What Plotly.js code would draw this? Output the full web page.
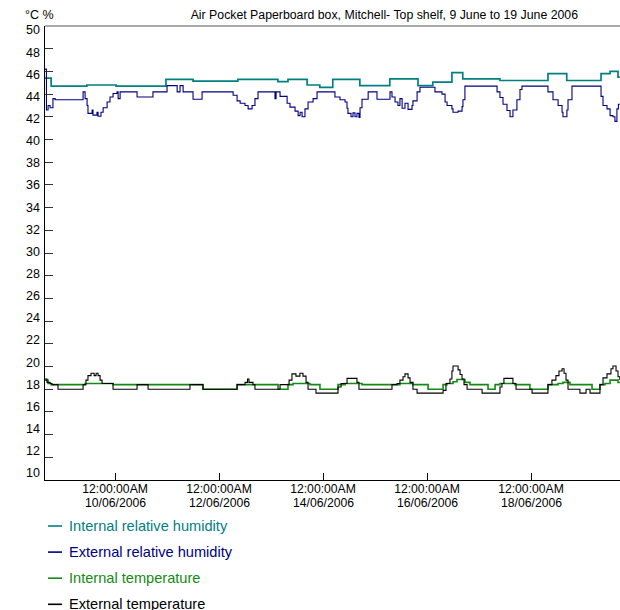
<!DOCTYPE html>
<html>
<head>
<meta charset="utf-8">
<script src="https://cdn.plot.ly/plotly-3.0.1.min.js"></script>
<style>html,body{margin:0;padding:0;background:#fff;}</style>
</head>
<body>
<div id="chart" style="width:620px;height:610px;"></div>
<script>
// Logger readings, Air Pocket paperboard box (top shelf), June 2006
const chartTitle = 'Air Pocket Paperboard box, Mitchell- Top shelf, 9 June to 19 June 2006';
const unitLabel = '°C %';
const seriesNames = ['Internal relative humidity', 'External relative humidity', 'Internal temperature', 'External temperature'];
const seriesColors = ['#008080', '#000080', '#138a13', '#000000'];

const yTickValues = [10, 12, 14, 16, 18, 20, 22, 24, 26, 28, 30, 32, 34, 36, 38, 40, 42, 44, 46, 48, 50];
const tickDates = ['2006-06-10', '2006-06-12', '2006-06-14', '2006-06-16', '2006-06-18'];
const tickTime = '12:00:00AM';
const tickDateLabels = ['10/06/2006', '12/06/2006', '14/06/2006', '16/06/2006', '18/06/2006'];
const timeSpan = ['2006-06-08 15:40', '2006-06-19 17:05'];

// Internal relative humidity (%)
const rhInTime = ['2006-06-08 15:40','2006-06-08 18:30','2006-06-09 11:00','2006-06-10 00:30','2006-06-10 23:30',
  '2006-06-11 12:00','2006-06-12 08:40','2006-06-13 03:10','2006-06-13 07:50','2006-06-13 16:40','2006-06-13 22:30',
  '2006-06-14 04:30','2006-06-14 17:00','2006-06-15 06:50','2006-06-15 19:50','2006-06-16 02:40','2006-06-16 11:30',
  '2006-06-16 16:30','2006-06-17 09:40','2006-06-18 07:50','2006-06-18 16:30','2006-06-19 08:20','2006-06-19 12:30',
  '2006-06-19 16:10','2006-06-19 17:00'];
const rhIn = [45.4,44.7,44.8,44.7,45.3,
  45.15,45.3,45.1,45.3,44.8,44.6,
  45.3,44.75,45.35,44.75,45.05,45.9,
  45.35,45.2,45.8,45.2,45.8,46.0,
  45.5,45.5];

// External relative humidity (%)
const rhOutTime = ['2006-06-08 15:40','2006-06-08 16:20','2006-06-08 17:05','2006-06-08 18:00','2006-06-08 19:20','2006-06-08 20:20',
  '2006-06-09 09:15','2006-06-09 10:10','2006-06-09 11:05','2006-06-09 11:30','2006-06-09 13:25','2006-06-09 13:50',
  '2006-06-09 15:40','2006-06-09 16:10','2006-06-09 17:30','2006-06-09 18:30','2006-06-09 20:20','2006-06-09 21:40',
  '2006-06-09 23:05','2006-06-10 00:55','2006-06-10 01:25','2006-06-10 02:20','2006-06-10 10:10','2006-06-10 17:30',
  '2006-06-11 00:00','2006-06-11 04:40','2006-06-11 06:00','2006-06-11 07:25','2006-06-11 12:00','2006-06-11 16:10',
  '2006-06-12 06:30','2006-06-12 08:20','2006-06-12 09:45','2006-06-12 12:00','2006-06-12 13:25','2006-06-12 15:15',
  '2006-06-12 16:35','2006-06-12 18:00','2006-06-13 01:50','2006-06-13 02:20','2006-06-13 04:10','2006-06-13 07:25',
  '2006-06-13 08:45','2006-06-13 11:05','2006-06-13 12:30','2006-06-13 13:25','2006-06-13 14:20','2006-06-13 15:40',
  '2006-06-13 17:05','2006-06-13 19:25','2006-06-13 21:15','2006-06-14 05:30','2006-06-14 07:50','2006-06-14 10:10',
  '2006-06-14 11:05','2006-06-14 11:30','2006-06-14 12:55','2006-06-14 13:50','2006-06-14 14:45','2006-06-14 15:40',
  '2006-06-14 16:35','2006-06-14 17:05','2006-06-14 18:00','2006-06-14 20:50','2006-06-15 00:55','2006-06-15 06:55',
  '2006-06-15 07:50','2006-06-15 09:15','2006-06-15 10:35','2006-06-15 11:30','2006-06-15 12:30','2006-06-15 13:50',
  '2006-06-15 15:15','2006-06-15 17:05','2006-06-15 17:30','2006-06-15 19:25','2006-06-15 20:45','2006-06-16 03:40',
  '2006-06-16 06:55','2006-06-16 08:20','2006-06-16 09:15','2006-06-16 11:30','2006-06-16 12:00','2006-06-16 14:20',
  '2006-06-16 16:10','2006-06-16 16:35','2006-06-16 17:30','2006-06-17 08:20','2006-06-17 09:40','2006-06-17 11:05',
  '2006-06-17 12:55','2006-06-17 14:20','2006-06-17 15:40','2006-06-17 17:30','2006-06-17 18:55','2006-06-17 19:50',
  '2006-06-18 07:50','2006-06-18 10:10','2006-06-18 12:30','2006-06-18 14:20','2006-06-18 14:45','2006-06-18 16:35',
  '2006-06-18 17:05','2006-06-18 18:55','2006-06-19 08:20','2006-06-19 09:15','2006-06-19 11:05','2006-06-19 12:30',
  '2006-06-19 13:50','2006-06-19 14:45','2006-06-19 15:40','2006-06-19 16:20','2006-06-19 17:00'];
const rhOut = [46.2,42.6,43.0,42.8,43.6,43.5,
  44.2,43.6,43.0,42.3,42.6,42.15,
  42.4,42.05,42.4,42.8,43.3,43.75,
  44.05,44.2,43.6,44.2,43.75,44.2,
  44.75,44.2,44.75,44.2,43.55,44.2,
  43.9,43.4,43.2,43.0,42.7,43.0,
  43.6,44.2,43.6,44.2,43.8,43.2,
  42.85,42.5,42.1,42.4,42.0,42.7,
  43.3,43.6,44.2,43.75,43.5,43.3,
  42.75,42.3,42.0,42.35,42.0,42.3,
  41.95,42.8,43.55,44.2,43.55,44.2,
  43.75,43.3,43.0,43.6,42.75,43.2,
  42.65,43.0,43.4,44.2,44.6,44.2,
  44.0,43.3,43.0,42.7,42.4,42.5,
  42.9,43.5,44.7,44.2,43.7,43.1,
  42.55,42.0,42.6,43.5,44.4,44.7,
  44.2,43.5,43.0,42.4,42.0,42.6,
  43.5,44.7,43.8,43.0,42.7,42.1,
  42.0,41.6,42.7,43.1,43.1];

// Internal temperature (°C)
const tInTime = ['2006-06-08 15:40','2006-06-08 17:05','2006-06-08 18:30','2006-06-09 10:10','2006-06-09 23:05',
  '2006-06-11 16:35','2006-06-12 08:20','2006-06-13 03:15','2006-06-13 07:50','2006-06-13 10:10','2006-06-13 18:00',
  '2006-06-13 22:35','2006-06-14 06:55','2006-06-14 10:10','2006-06-14 18:00','2006-06-15 11:30','2006-06-15 17:30',
  '2006-06-16 00:30','2006-06-16 07:25','2006-06-16 09:15','2006-06-16 12:00','2006-06-16 13:50','2006-06-16 17:30',
  '2006-06-16 19:50','2006-06-17 04:10','2006-06-17 07:25','2006-06-17 09:40','2006-06-17 16:35','2006-06-17 23:30',
  '2006-06-18 07:50','2006-06-18 12:30','2006-06-18 14:45','2006-06-18 18:00','2006-06-19 04:10','2006-06-19 07:50',
  '2006-06-19 10:10','2006-06-19 12:30','2006-06-19 16:10','2006-06-19 17:00'];
const tIn = [18.8,18.5,18.4,18.5,18.4,
  18.0,18.4,18.0,18.4,18.5,18.4,
  18.0,18.4,18.5,18.4,18.5,18.4,
  18.0,18.4,18.5,18.65,18.85,18.6,
  18.4,18.0,18.4,18.5,18.4,18.0,
  18.4,18.5,18.6,18.4,18.0,18.4,
  18.5,18.8,18.6,18.6];

// External temperature (°C)
const tOutTime = ['2006-06-08 15:40','2006-06-08 16:35','2006-06-08 18:00','2006-06-08 18:55','2006-06-08 21:40',
  '2006-06-09 09:15','2006-06-09 10:35','2006-06-09 11:30','2006-06-09 12:55','2006-06-09 14:20','2006-06-09 15:15',
  '2006-06-09 16:10','2006-06-09 17:05','2006-06-09 18:00','2006-06-09 23:05','2006-06-10 10:10','2006-06-10 15:15',
  '2006-06-11 10:35','2006-06-11 16:35','2006-06-12 08:20','2006-06-12 12:00','2006-06-12 13:10','2006-06-12 13:50',
  '2006-06-12 15:40','2006-06-12 16:35','2006-06-13 04:10','2006-06-13 08:20','2006-06-13 09:40','2006-06-13 11:30',
  '2006-06-13 13:20','2006-06-13 14:45','2006-06-13 16:10','2006-06-13 17:05','2006-06-13 20:45','2006-06-14 06:55',
  '2006-06-14 08:20','2006-06-14 11:05','2006-06-14 15:40','2006-06-14 16:35','2006-06-15 07:50','2006-06-15 10:10',
  '2006-06-15 11:30','2006-06-15 12:55','2006-06-15 13:50','2006-06-15 15:15','2006-06-15 16:10','2006-06-15 17:30',
  '2006-06-15 19:25','2006-06-16 07:25','2006-06-16 08:45','2006-06-16 10:35','2006-06-16 11:30','2006-06-16 12:00',
  '2006-06-16 14:20','2006-06-16 15:15','2006-06-16 16:10','2006-06-16 17:05','2006-06-16 18:30','2006-06-17 01:25',
  '2006-06-17 09:40','2006-06-17 10:35','2006-06-17 11:30','2006-06-17 15:40','2006-06-17 17:05','2006-06-18 00:30',
  '2006-06-18 07:50','2006-06-18 09:40','2006-06-18 11:30','2006-06-18 12:55','2006-06-18 14:20','2006-06-18 15:15',
  '2006-06-18 16:10','2006-06-18 17:05','2006-06-18 22:35','2006-06-19 01:25','2006-06-19 03:15','2006-06-19 07:50',
  '2006-06-19 09:15','2006-06-19 11:05','2006-06-19 12:55','2006-06-19 13:50','2006-06-19 15:15','2006-06-19 16:10',
  '2006-06-19 17:00'];
const tOut = [18.9,18.6,18.5,18.4,18.0,
  18.4,18.8,19.2,19.4,19.2,19.4,
  19.2,18.8,18.5,18.0,18.4,18.0,
  18.4,18.0,18.4,18.6,18.9,18.6,
  18.4,18.0,18.4,18.8,19.35,19.15,
  19.4,19.15,18.6,18.0,17.65,18.2,
  18.5,18.95,18.6,18.0,18.4,18.5,
  18.8,19.1,19.35,19.0,18.6,18.0,
  17.65,17.9,18.5,18.9,19.6,20.05,
  19.7,19.3,18.9,18.4,18.0,17.65,
  18.2,18.5,18.95,18.5,18.0,17.65,
  18.4,18.8,19.2,19.6,19.8,19.4,
  18.8,18.0,17.65,18.0,17.65,18.4,
  19.0,19.35,19.8,20.05,19.6,19.1,
  18.8];

const seriesTimes = [rhInTime, rhOutTime, tInTime, tOutTime];
const seriesValues = [rhIn, rhOut, tIn, tOut];
const seriesWidths = [1.7, 1.1, 1.6, 1.1];

// plot geometry (pixels)
const W = 620, H = 610;
const M = {l: 45, r: 0, t: 26, b: 130};
const plotW = W - M.l - M.r, plotH = H - M.t - M.b;
const px2x = px => (px - M.l) / plotW;
const px2y = py => (H - M.b - py) / plotH;

// the value labels sit on a slightly tighter pitch than the tick marks:
// 10 beside the x axis, 50 just under the top rule
const labelBottom = H - M.b - 7, labelPitch = 11.075;
const labelRange = [10 - (H - M.b - labelBottom) / labelPitch, 10 + (labelBottom - M.t) / labelPitch];

const FONT = 'Liberation Sans, Arial, Helvetica, sans-serif';

const traces = seriesNames.map((name, i) => ({
  type: 'scatter',
  mode: 'lines',
  name: name,
  x: seriesTimes[i],
  y: seriesValues[i],
  line: {color: seriesColors[i], width: seriesWidths[i], shape: 'hv'},
  showlegend: false,
  hoverinfo: 'x+y+name'
}));
// empty trace that carries the label axis
traces.push({type: 'scatter', mode: 'lines', x: [], y: [], yaxis: 'y2', showlegend: false, hoverinfo: 'skip'});

// legend drawn beneath the plot: short line sample + coloured label
const legendShapes = [];
const legendNotes = [];
seriesNames.forEach((name, i) => {
  const rowY = 526 + i * 26.1;
  legendShapes.push({
    type: 'line', xref: 'paper', yref: 'paper',
    x0: px2x(48), x1: px2x(62), y0: px2y(rowY), y1: px2y(rowY),
    line: {color: seriesColors[i], width: 1.6}
  });
  legendNotes.push({
    xref: 'paper', yref: 'paper', x: px2x(67), y: px2y(rowY),
    xanchor: 'left', yanchor: 'middle', showarrow: false,
    text: name, font: {family: FONT, size: 14.6, color: seriesColors[i]}
  });
});

// second line of each time label (the date)
const dateNotes = tickDates.map((d, i) => ({
  xref: 'x', yref: 'paper', x: d, y: px2y(503),
  xanchor: 'center', yanchor: 'middle', showarrow: false,
  text: tickDateLabels[i], font: {family: FONT, size: 12.2, color: '#000'}
}));

const layout = {
  width: W, height: H,
  margin: M,
  paper_bgcolor: '#ffffff',
  plot_bgcolor: '#ffffff',
  font: {family: FONT, size: 12, color: '#000'},
  title: {
    text: chartTitle,
    xref: 'container', yref: 'container',
    x: 578 / W, xanchor: 'right',
    y: 1 - 15 / H, yanchor: 'middle',
    font: {family: FONT, size: 12.3, color: '#000'}
  },
  xaxis: {
    type: 'date',
    range: timeSpan,
    tickmode: 'array',
    tickvals: tickDates,
    ticktext: tickDates.map(() => tickTime),
    ticks: 'inside', ticklen: 7, tickwidth: 1, tickcolor: '#000',
    ticklabelstandoff: -3,
    showline: true, linecolor: '#000', linewidth: 1,
    showgrid: false, zeroline: false,
    tickfont: {family: FONT, size: 12.2, color: '#000'}
  },
  yaxis: {
    range: [10, 50],
    tickmode: 'array', tickvals: yTickValues,
    ticks: 'inside', ticklen: 8, tickwidth: 1, tickcolor: '#333',
    showticklabels: false,
    showline: true, linecolor: '#000', linewidth: 1,
    showgrid: false, zeroline: false
  },
  yaxis2: {
    overlaying: 'y', side: 'left', anchor: 'x',
    range: labelRange,
    tickmode: 'array', tickvals: yTickValues,
    ticks: '', showline: false, showgrid: false, zeroline: false,
    ticklabelstandoff: 4,
    tickfont: {family: FONT, size: 12.5, color: '#000'}
  },
  shapes: [
    {type: 'line', xref: 'paper', yref: 'paper', x0: 0, x1: 1, y0: 1, y1: 1,
     line: {color: '#555', width: 1}}
  ].concat(legendShapes),
  annotations: [
    {xref: 'paper', yref: 'paper', x: px2x(23), y: px2y(15), xanchor: 'left', yanchor: 'middle',
     showarrow: false, text: unitLabel, font: {family: FONT, size: 12.5, color: '#000'}}
  ].concat(dateNotes, legendNotes)
};

Plotly.newPlot('chart', traces, layout, {displayModeBar: false, staticPlot: true});
</script>
</body>
</html>
